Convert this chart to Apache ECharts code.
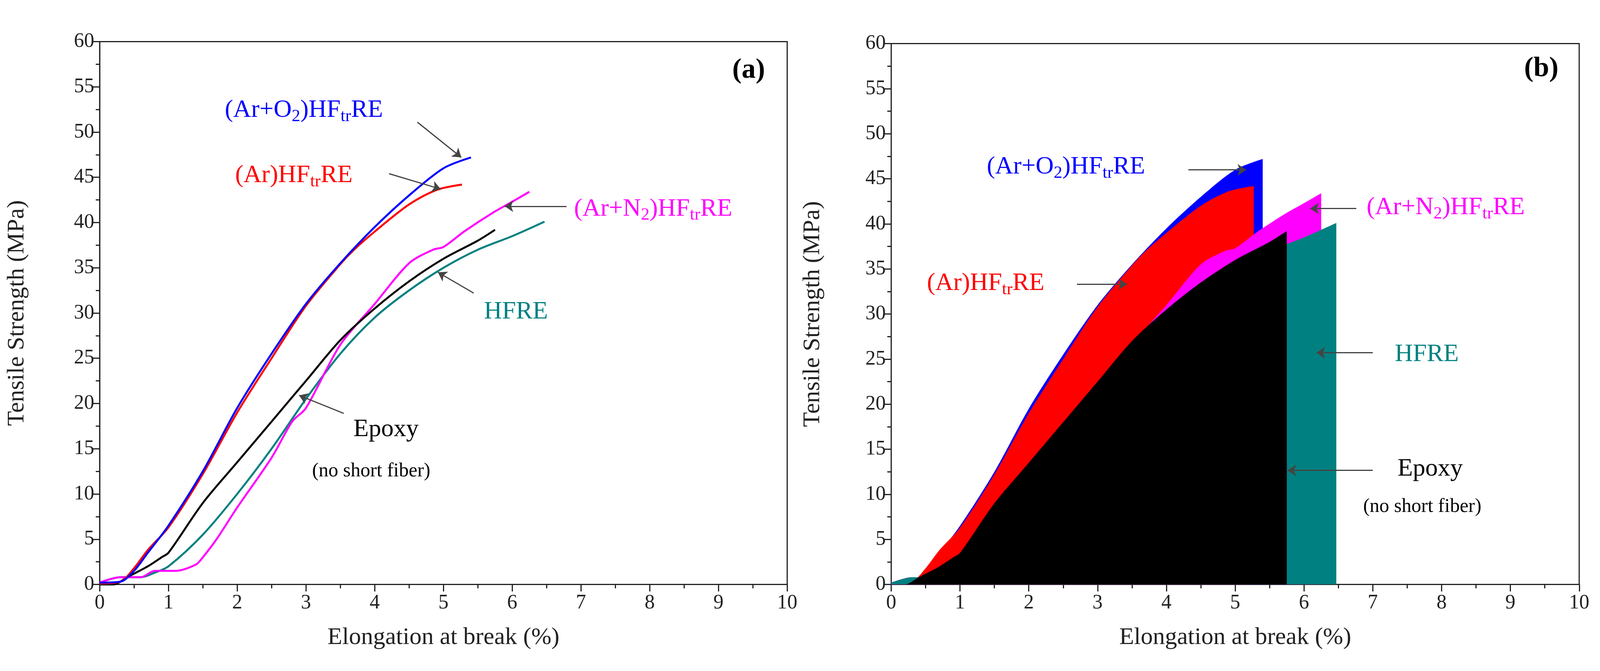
<![CDATA[<!DOCTYPE html><html><head><meta charset="utf-8">
<script src="https://cdn.jsdelivr.net/npm/echarts@6/dist/echarts.min.js"></script>
<style>html,body{margin:0;background:#fff;overflow:hidden}#c{width:100vw;height:100vh}</style></head><body><div id="c"></div>
<script>
const arO2 = [[0,0.2],[0.3,0.3],[0.5,1.5],[0.7,3.5],[1,6.5],[1.5,12.5],[2,19.5],[2.5,25.5],[3,31],[3.5,35.5],[4,39.5],[4.5,43],[5,46],[5.4,47.2]];
const arOnly = [[0,0.1],[0.3,0.3],[0.5,1.8],[0.7,3.8],[1,6.3],[1.5,12.2],[2,19],[2.5,25],[3,30.8],[3.5,35.4],[3.7,37],[4,39],[4.5,42],[4.9,43.6],[5.27,44.2]];
const arN2 = [[0,0.2],[0.3,0.8],[0.6,0.8],[0.8,1.5],[1.1,1.5],[1.4,2.2],[1.5,3],[1.7,5],[2,8.5],[2.5,14],[2.8,18],[3,19.5],[3.5,26.5],[4,31],[4.5,35.5],[4.85,37],[5,37.3],[5.3,39],[5.7,41],[6,42.3],[6.25,43.4]];
const hfre = [[0,0.2],[0.3,0.8],[0.6,0.8],[0.8,1.3],[1,2],[1.5,5.5],[2,10],[2.5,15],[3,20.5],[3.5,25.5],[4,29.5],[4.5,32.5],[5,35],[5.5,37],[6,38.5],[6.47,40.1]];
const epoxy = [[0,0],[0.2,0],[0.4,0.8],[0.7,2],[0.9,3],[1,3.5],[1.5,9],[2,13.5],[2.5,18],[3,22.5],[3.5,27],[4,30.5],[4.5,33.5],[5,36],[5.5,38],[5.75,39.2]];
const xTicks = [0,1,2,3,4,5,6,7,8,9,10];
const yTicks = [0,5,10,15,20,25,30,35,40,45,50,55,60];
const FONT = 'Liberation Serif';
const rich = {n:{fontSize:64,fontFamily:FONT},s:{fontSize:44,fontFamily:FONT,padding:[32,0,0,0]},m:{fontSize:50,fontFamily:FONT},b:{fontSize:72,fontWeight:'bold',fontFamily:FONT}};
function lab(x,y,text,color){return {coord:[x,y],symbolSize:0,label:{show:true,position:'inside',align:'left',verticalAlign:'middle',formatter:text,color:color,rich:rich}};}
function arr(a,b){return [{coord:a},{coord:b}];}
const O2='{n|(Ar+O}{s|2}{n|)HF}{s|tr}{n|RE}', AR='{n|(Ar)HF}{s|tr}{n|RE}', N2='{n|(Ar+N}{s|2}{n|)HF}{s|tr}{n|RE}';
const labelsA=[lab(1.82,52.4,O2,'#0000ff'),lab(1.97,45.2,AR,'#ff0000'),lab(6.9,41.5,N2,'#ff00ff'),lab(5.59,30.1,'{n|HFRE}','#008080'),lab(3.69,17.1,'{n|Epoxy}','#000'),lab(3.09,12.5,'{m|(no short fiber)}','#000'),lab(9.2,56.8,'{b|(a)}','#000')];
const arrowsA=[arr([4.62,51.1],[5.26,47.2]),arr([4.21,45.4],[4.96,43.7]),arr([6.79,41.8],[5.89,41.8]),arr([5.44,32.2],[4.92,34.5]),arr([3.55,18.9],[2.9,20.9])];
const labelsB=[lab(1.39,46.3,O2,'#0000ff'),lab(0.52,33.4,AR,'#ff0000'),lab(6.91,41.8,N2,'#ff00ff'),lab(7.32,25.5,'{n|HFRE}','#008080'),lab(7.36,12.8,'{n|Epoxy}','#000'),lab(6.86,8.6,'{m|(no short fiber)}','#000'),lab(9.2,57.2,'{b|(b)}','#000')];
const arrowsB=[arr([4.32,46],[5.16,46]),arr([2.7,33.3],[3.43,33.3]),arr([6.76,41.7],[6.09,41.7]),arr([7.0,25.7],[6.18,25.7]),arr([7.0,12.65],[5.76,12.65])];
function xa(i){return {type:'value',gridIndex:i,min:0,max:10,interval:1,name:'Elongation at break (%)',nameLocation:'middle',nameGap:105,nameTextStyle:{fontFamily:FONT,fontSize:62,color:'#222'},axisLine:{lineStyle:{color:'#222',width:3}},axisTick:{length:18,lineStyle:{width:3}},minorTick:{show:true,splitNumber:2,length:10,lineStyle:{color:'#222',width:3}},axisLabel:{fontFamily:FONT,fontSize:52,color:'#222',margin:22},splitLine:{show:false}};}
function ya(i){return {type:'value',gridIndex:i,min:0,max:60,interval:5,name:'Tensile Strength (MPa)',nameLocation:'middle',nameGap:i?170:180,nameTextStyle:{fontFamily:FONT,fontSize:62,color:'#222'},axisLine:{lineStyle:{color:'#222',width:3}},axisTick:{length:18,lineStyle:{width:3}},minorTick:{show:true,splitNumber:2,length:10,lineStyle:{color:'#222',width:3}},axisLabel:{fontFamily:FONT,fontSize:52,color:'#222',margin:14},splitLine:{show:false}};}
function s(i,data,color,area,extra){const o={type:'line',xAxisIndex:i,yAxisIndex:i,data:data,showSymbol:false,smooth:0.3,lineStyle:{color:color,width:area?0:5},itemStyle:{color:color},animation:false};if(area)o.areaStyle={color:color,opacity:1};return Object.assign(o,extra||{});}
const mk=(labels,arrows)=>({markPoint:{data:labels,animation:false},markLine:{silent:true,symbol:['none','arrow'],symbolSize:22,label:{show:false},lineStyle:{color:'#444',width:3,type:'solid'},data:arrows,animation:false}});
const chart=echarts.init(document.getElementById('c'));
chart.setOption({backgroundColor:'#fff',
grid:[{left:'6.23%',right:'50.8%',top:'6.2%',bottom:'12.9%',show:true,borderColor:'#222',borderWidth:3},{left:'55.7%',right:'1.3%',top:'6.5%',bottom:'12.9%',show:true,borderColor:'#222',borderWidth:3}],
xAxis:[xa(0),xa(1)],yAxis:[ya(0),ya(1)],
series:[s(0,hfre,'#008080'),s(0,arN2,'#ff00ff'),s(0,epoxy,'#000'),s(0,arOnly,'#ff0000'),s(0,arO2,'#0000ff',false,mk(labelsA,arrowsA)),
s(1,arO2,'#0000ff',true),s(1,arOnly,'#ff0000',true),s(1,arN2,'#ff00ff',true),s(1,hfre,'#008080',true),s(1,epoxy,'#000',true,mk(labelsB,arrowsB))]});
window.addEventListener('resize',()=>chart.resize());
</script></body></html>]]>
